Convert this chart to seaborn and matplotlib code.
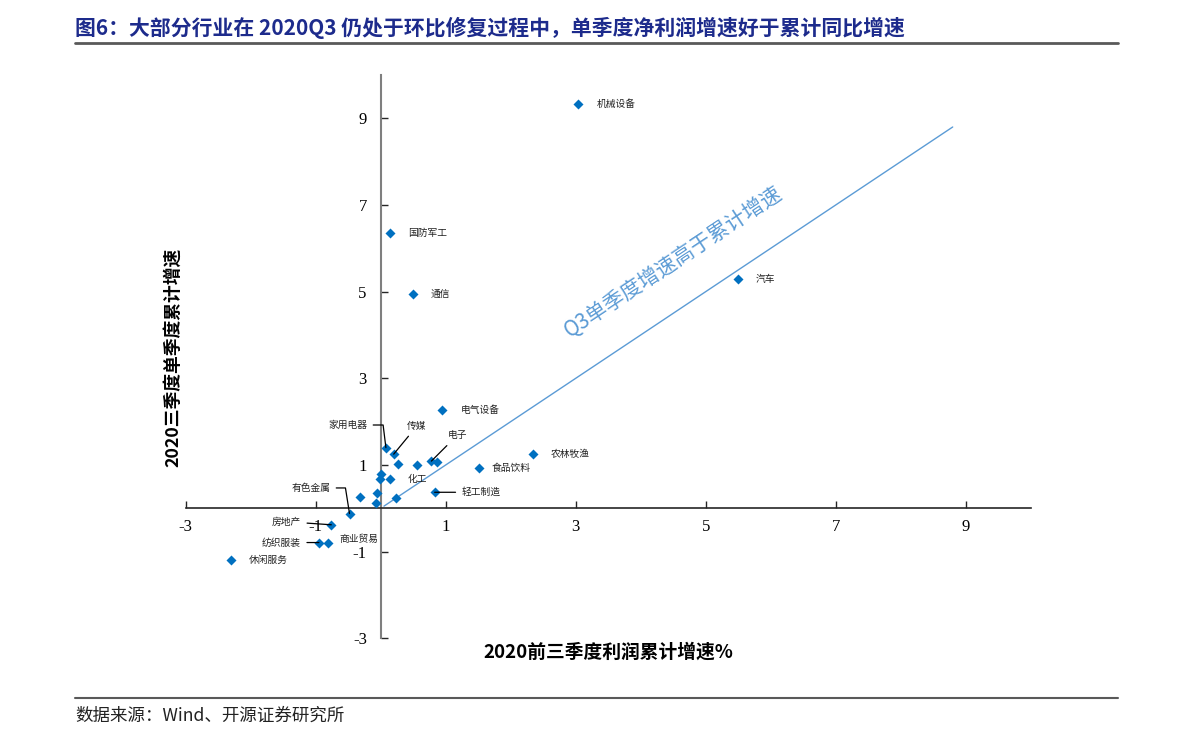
import matplotlib
matplotlib.use("Agg")
import matplotlib.pyplot as plt
from matplotlib.lines import Line2D
import seaborn as sns
import pandas as pd

# ---------------- data ----------------
industries = ["机械设备", "国防军工", "通信", "汽车", "电气设备", "家用电器", "传媒",
              "电子", "化工", "轻工制造", "食品饮料", "农林牧渔", "有色金属", "房地产",
              "纺织服装", "商业贸易", "休闲服务",
              "", "", "", "", "", "", "", "", ""]
cum_profit_growth = [3.04, 0.15, 0.49, 5.50, 0.95, 0.08, 0.20,
                     0.78, 0.15, 0.83, 1.51, 2.35, -0.48, -0.76,
                     -0.95, -0.81, -2.30,
                     0.26, 0.56, 0.86, 0.00, -0.01, -0.06, -0.32, -0.08, 0.24]
q3_single_growth = [9.32, 6.35, 4.95, 5.29, 2.26, 1.40, 1.25,
                    1.09, 0.68, 0.37, 0.92, 1.25, -0.12, -0.38,
                    -0.79, -0.79, -1.20,
                    1.02, 0.99, 1.07, 0.79, 0.68, 0.35, 0.27, 0.12, 0.23]

x_ticks = [-3, -1, 1, 3, 5, 7, 9]
y_ticks = [-3, -1, 1, 3, 5, 7, 9]
ref_line_x = [0.05, 8.8]
ref_line_y = [0.05, 8.8]

title = "图6：大部分行业在 2020Q3 仍处于环比修复过程中，单季度净利润增速好于累计同比增速"
source = "数据来源：Wind、开源证券研究所"
x_label = "2020前三季度利润累计增速%"
y_label = "2020三季度单季度累计增速"
ref_text = "Q3单季度增速高于累计增速"

# ---------------- label layout (offset points) ----------------
label_layout = {
    "机械设备": dict(offset=(13.5, 0), ha="left"),
    "国防军工": dict(offset=(13, 0), ha="left"),
    "通信": dict(offset=(13, 0), ha="left"),
    "汽车": dict(offset=(12.5, 0), ha="left"),
    "电气设备": dict(offset=(13, 0), ha="left"),
    "食品饮料": dict(offset=(9, 0), ha="left"),
    "农林牧渔": dict(offset=(12.5, 0), ha="left"),
    "化工": dict(offset=(12.5, 0), ha="left"),
    "商业贸易": dict(offset=(8, 2.7), ha="left"),
    "休闲服务": dict(offset=(13, 0), ha="left"),
    "家用电器": dict(offset=(-13.5, 16.3), ha="right", conn="angle,angleA=0,angleB=97,rad=0"),
    "传媒": dict(offset=(16.8, 20.4), ha="center", conn="arc3"),
    "电子": dict(offset=(18.5, 18.5), ha="center", conn="arc3"),
    "轻工制造": dict(offset=(19.4, 0), ha="left", conn="arc3"),
    "有色金属": dict(offset=(-13.9, 18.4), ha="right", conn="angle,angleA=0,angleB=99,rad=0"),
    "房地产": dict(offset=(-21.8, 2.2), ha="right", conn="arc3"),
    "纺织服装": dict(offset=(-13, 0), ha="right", conn="arc3"),
}

sns.set_theme(style="white")
plt.rcParams["font.family"] = ["Noto Sans CJK SC", "DejaVu Sans"]
plt.rcParams["axes.unicode_minus"] = False

W, H = 1191, 744
fig = plt.figure(figsize=(W / 100, H / 100), dpi=100)
fig.patch.set_facecolor("white")
ax = fig.add_axes([185.7 / W, 1 - 638.3 / H, 845 / W, 563.3 / H])

df = pd.DataFrame({"industry": industries, "x": cum_profit_growth, "y": q3_single_growth})

ax.plot(ref_line_x, ref_line_y, color="#5B9BD5", lw=1, zorder=2)
sns.scatterplot(data=df, x="x", y="y", marker="D", color="#0070C0", s=26,
                linewidth=0, ax=ax, legend=False, zorder=3)

ax.set_xlim(-3, 10)
ax.set_ylim(-3, 10)
ax.spines["left"].set_position(("data", 0))
ax.spines["bottom"].set_position(("data", 0))
ax.spines["top"].set_visible(False)
ax.spines["right"].set_visible(False)
ax.spines["left"].set_color("#7F7F7F")
ax.spines["left"].set_linewidth(1.5)
ax.spines["bottom"].set_color("#262626")
ax.spines["bottom"].set_linewidth(1.2)
ax.set_xticks(x_ticks)
ax.set_yticks(y_ticks)
ax.tick_params(axis="x", direction="in", length=5, width=1, color="#262626",
               labelsize=12, pad=8, bottom=True)
ax.tick_params(axis="y", direction="in", length=5, width=1, color="#262626",
               labelsize=12, pad=10, left=True)
for lab in ax.get_xticklabels() + ax.get_yticklabels():
    lab.set_fontfamily("Liberation Serif")
    lab.set_color("black")
ax.grid(False)

ax.set_xlabel(x_label, fontsize=13.5, fontweight="bold", color="black")
ax.set_ylabel(y_label, fontsize=12.8, fontweight="bold", color="black")
ax.xaxis.set_label_coords(0.5006, -0.0249)
ax.xaxis.label.set_va("center")
ax.yaxis.set_label_coords(-0.0154, 0.499)
ax.yaxis.label.set_va("center")

for name, xv, yv in zip(industries, cum_profit_growth, q3_single_growth):
    if not name:
        continue
    lay = label_layout[name]
    arrow = None
    if "conn" in lay:
        arrow = dict(arrowstyle="-", color="black", lw=0.9, shrinkA=2, shrinkB=0,
                     connectionstyle=lay["conn"])
    ax.annotate(name, xy=(xv, yv), xytext=lay["offset"], textcoords="offset points",
                ha=lay["ha"], va="center", fontsize=7, color="#222222",
                arrowprops=arrow, zorder=4)

ax.text(4.5, 5.68, ref_text, rotation=33.5, rotation_mode="anchor",
        ha="center", va="center", fontsize=15, color="#5B9BD5")

fig.text(75 / W, 1 - 28 / H, title, ha="left", va="center", fontsize=15,
         fontweight="bold", color="#1D2B8C")
fig.add_artist(Line2D([75 / W, 1118 / W], [1 - 43 / H] * 2, color="#595959", lw=2))
fig.add_artist(Line2D([75 / W, 1118 / W], [1 - 698 / H] * 2, color="#595959", lw=1.5))
fig.text(75 / W, 1 - 716 / H, source, ha="left", va="center", fontsize=12.6, color="#222222")

fig.savefig("out.png", dpi=100)
